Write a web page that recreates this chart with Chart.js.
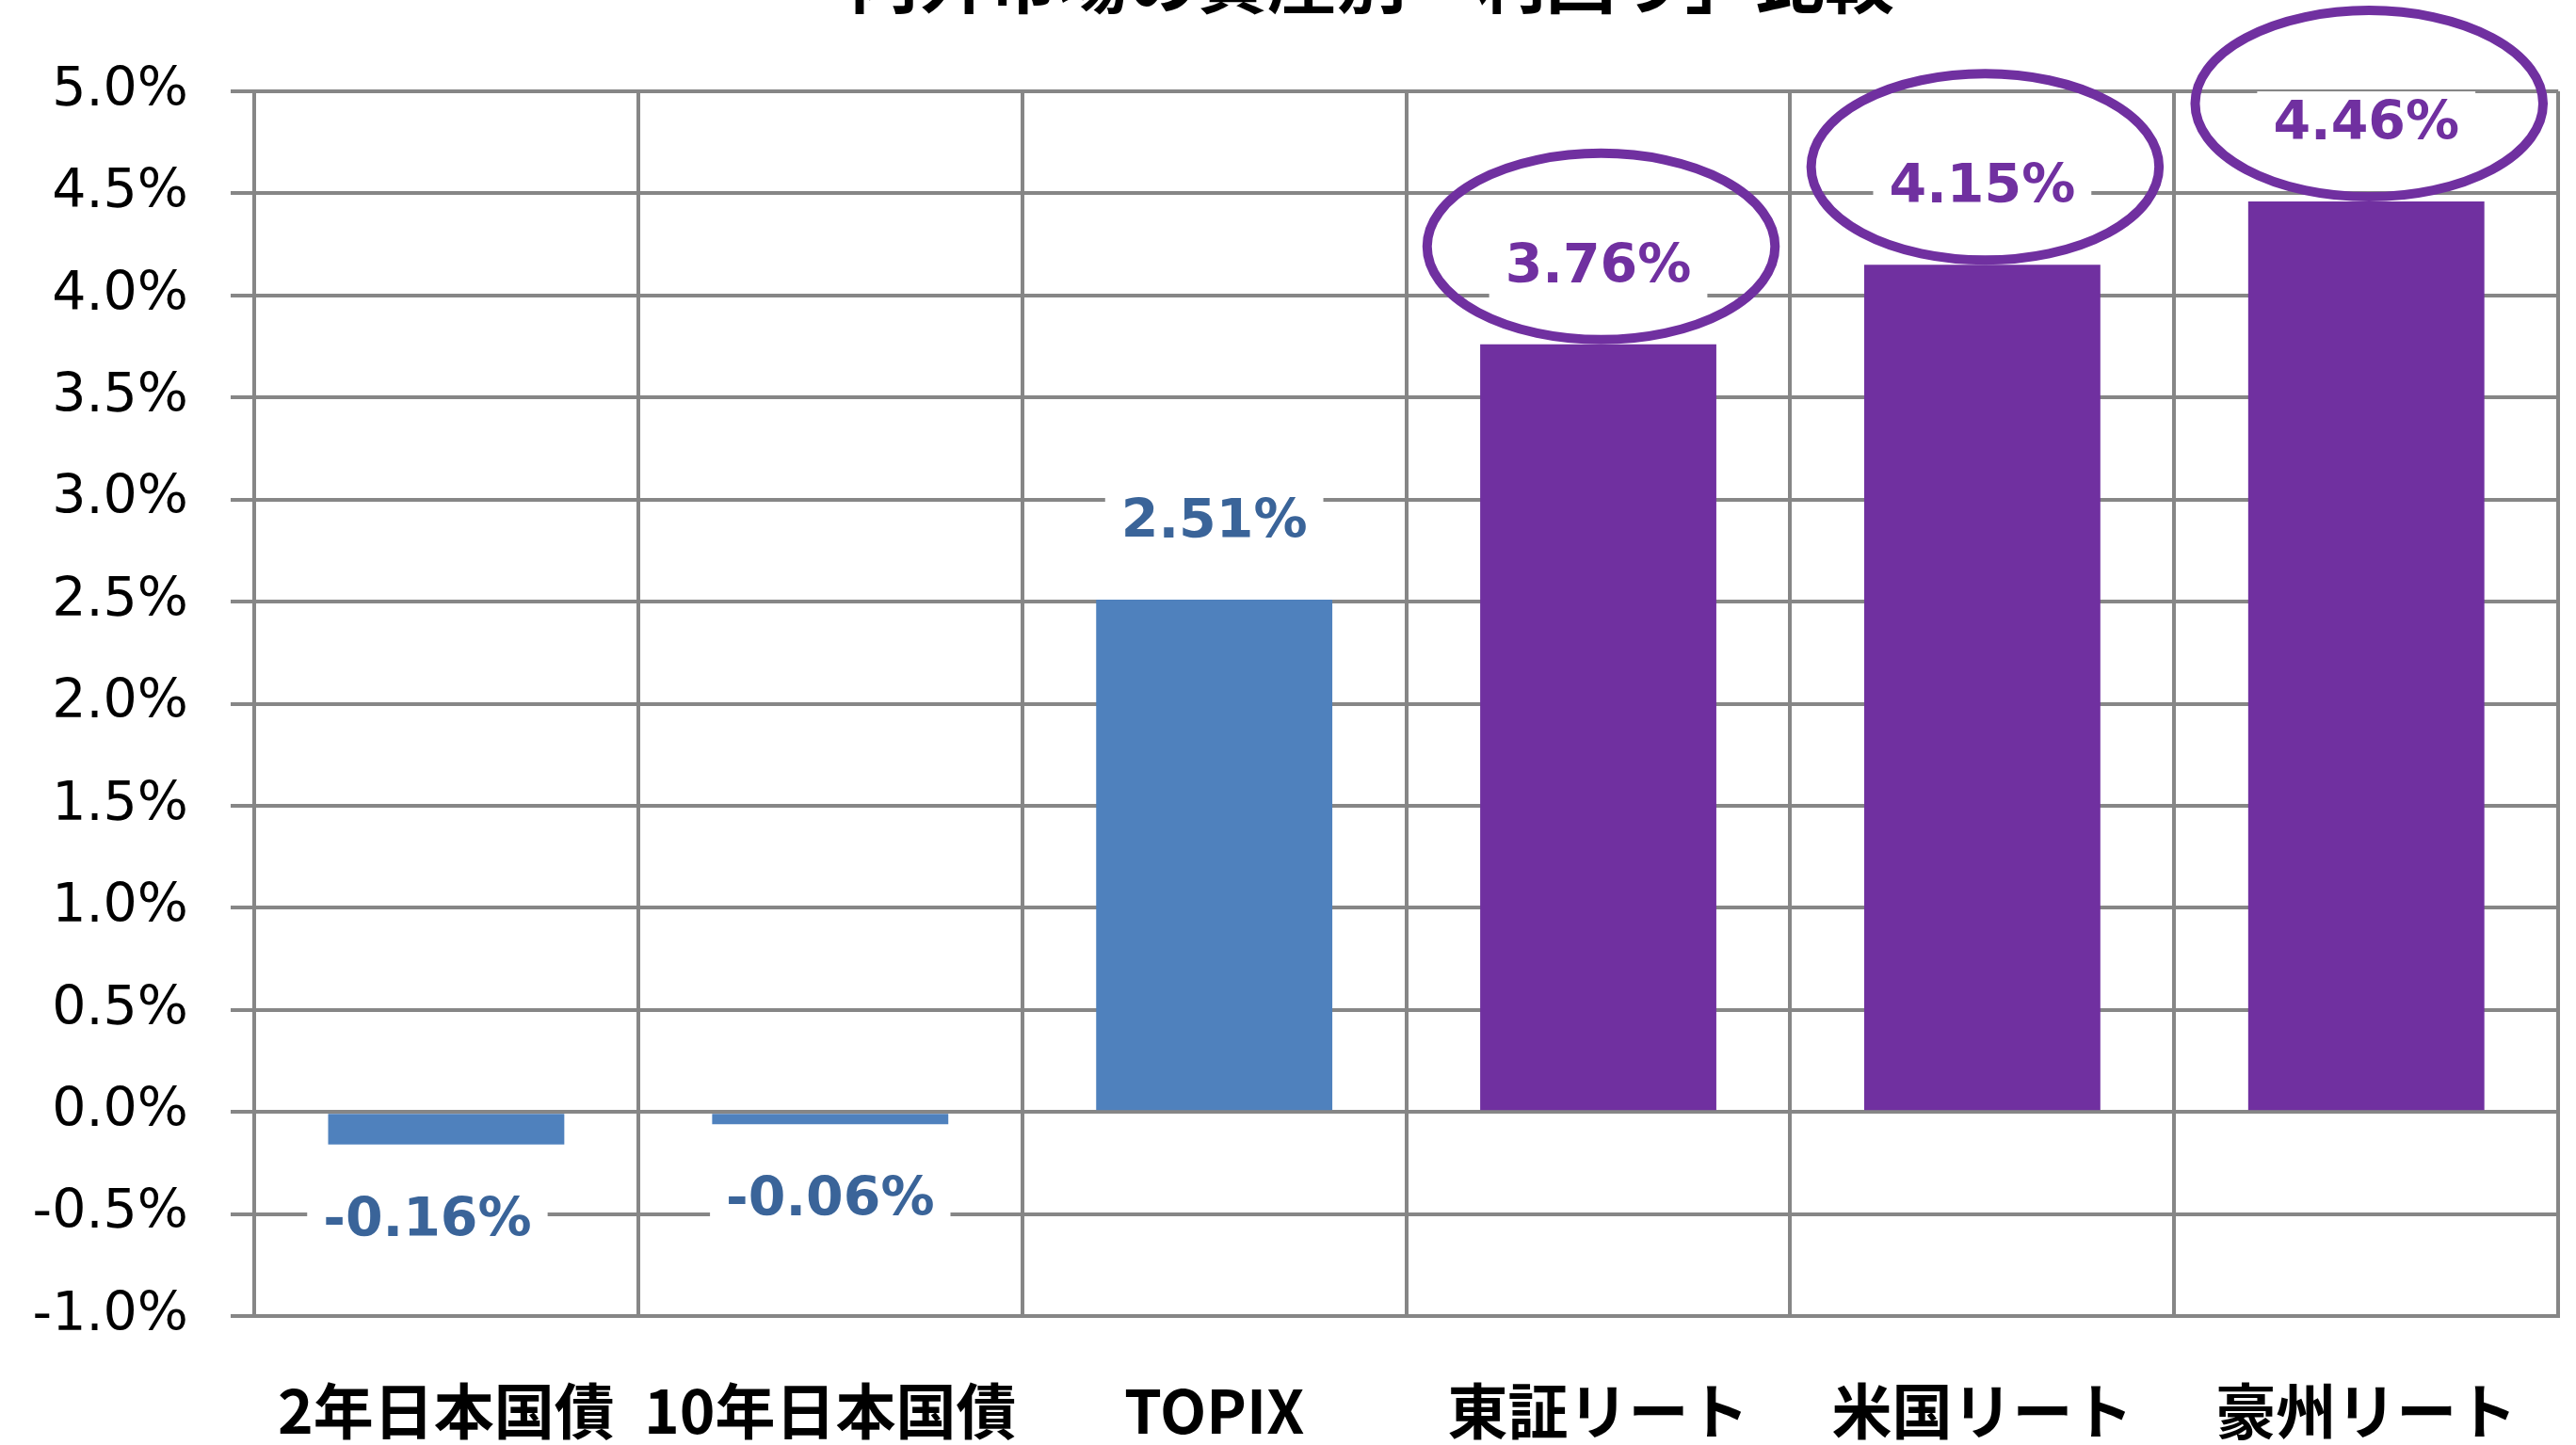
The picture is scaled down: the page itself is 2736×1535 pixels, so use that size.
<!DOCTYPE html>
<html>
<head>
<meta charset="utf-8">
<script src="https://cdn.jsdelivr.net/npm/chart.js@4/dist/chart.umd.min.js"></script>
<style>
  html, body { margin: 0; padding: 0; background: #fff; overflow: hidden; }
  #wrap { position: absolute; left: 0; top: 0; width: 2736px; height: 1600px; }
</style>
</head>
<body>
<div id="wrap"><canvas id="c"></canvas></div>
<script>
// ---- data ----
const chartTitle = '内外市場の資産別「利回り」比較';
const categories = ['2年日本国債', '10年日本国債', 'TOPIX', '東証リート', '米国リート', '豪州リート'];
const yields = [-0.16, -0.06, 2.51, 3.76, 4.15, 4.46];
const highlighted = [false, false, false, true, true, true];
const yMin = -1.0, yMax = 5.0, yStep = 0.5;

// ---- styles ----
const BLUE = '#4F81BD', BLUE_TXT = '#3A6499', PURPLE = '#7030A0';
const GRID = '#868686';

const labelPlugin = {
  id: 'valueLabels',
  afterDatasetsDraw(chart) {
    const ctx = chart.ctx;
    const meta = chart.getDatasetMeta(0);
    const ys = chart.scales.y;
    ctx.save();
    ctx.font = 'bold 57px "DejaVu Sans"';
    ctx.textAlign = 'center';
    ctx.textBaseline = 'middle';
    meta.data.forEach((bar, i) => {
      const v = yields[i];
      const edge = ys.getPixelForValue(v);
      const cy = v >= 0 ? edge - 83 : edge + 80;
      const txt = v.toFixed(2) + '%';
      const w = ctx.measureText(txt).width + 34;
      const lx = (i === 0) ? bar.x - 20 : bar.x;
      ctx.fillStyle = '#fff';
      ctx.fillRect(lx - w / 2, cy - 34, w, 68);
      ctx.fillStyle = highlighted[i] ? PURPLE : BLUE_TXT;
      ctx.fillText(txt, lx, cy + 2);
      if (highlighted[i]) {
        const xs = chart.scales.x;
        const catW = xs.width / categories.length;
        ctx.beginPath();
        ctx.ellipse(bar.x + 3, edge - 104, catW * 0.453, 99, 0, 0, Math.PI * 2);
        ctx.lineWidth = 10;
        ctx.strokeStyle = PURPLE;
        ctx.stroke();
      }
    });
    ctx.restore();
  }
};

const titlePlugin = {
  id: 'clippedTitle',
  afterDraw(chart) {
    const ctx = chart.ctx;
    ctx.save();
    ctx.font = 'bold 74px "Noto Sans CJK JP"';
    ctx.fillStyle = '#000';
    ctx.textAlign = 'center';
    ctx.textBaseline = 'alphabetic';
    ctx.fillText(chartTitle, 1457, 8);
    ctx.restore();
  }
};

new Chart(document.getElementById('c'), {
  type: 'bar',
  data: {
    labels: categories,
    datasets: [{
      data: yields,
      backgroundColor: highlighted.map(h => h ? PURPLE : BLUE),
      borderWidth: 0,
      barPercentage: 0.615,
      categoryPercentage: 1.0
    }]
  },
  options: {
    responsive: true,
    maintainAspectRatio: false,
    animation: false,
    layout: { padding: { left: 0, right: 9, top: 97, bottom: 0 } },
    plugins: {
      legend: { display: false },
      title: { display: false },
      tooltip: { enabled: false }
    },
    scales: {
      x: {
        offset: true,
        grid: { display: true, offset: true, color: GRID, lineWidth: 4, drawTicks: false },
        border: { display: true, color: GRID, width: 4 },
        ticks: {
          autoSkip: false, maxRotation: 0, minRotation: 0,
          padding: 62,
          color: '#000',
          font: { family: '"Noto Sans CJK JP"', weight: 'bold', size: 64 }
        },
        afterFit(scale) { scale.height = 202; }
      },
      y: {
        min: yMin, max: yMax,
        grid: { color: GRID, lineWidth: 4, tickLength: 25 },
        border: { display: true, color: GRID, width: 4 },
        ticks: {
          stepSize: yStep,
          padding: 45,
          color: '#000',
          font: { family: '"DejaVu Sans"', size: 57 },
          callback: v => v.toFixed(1) + '%'
        },
        afterFit(scale) { scale.width = 270; }
      }
    }
  },
  plugins: [labelPlugin, titlePlugin]
});
</script>
</body>
</html>
